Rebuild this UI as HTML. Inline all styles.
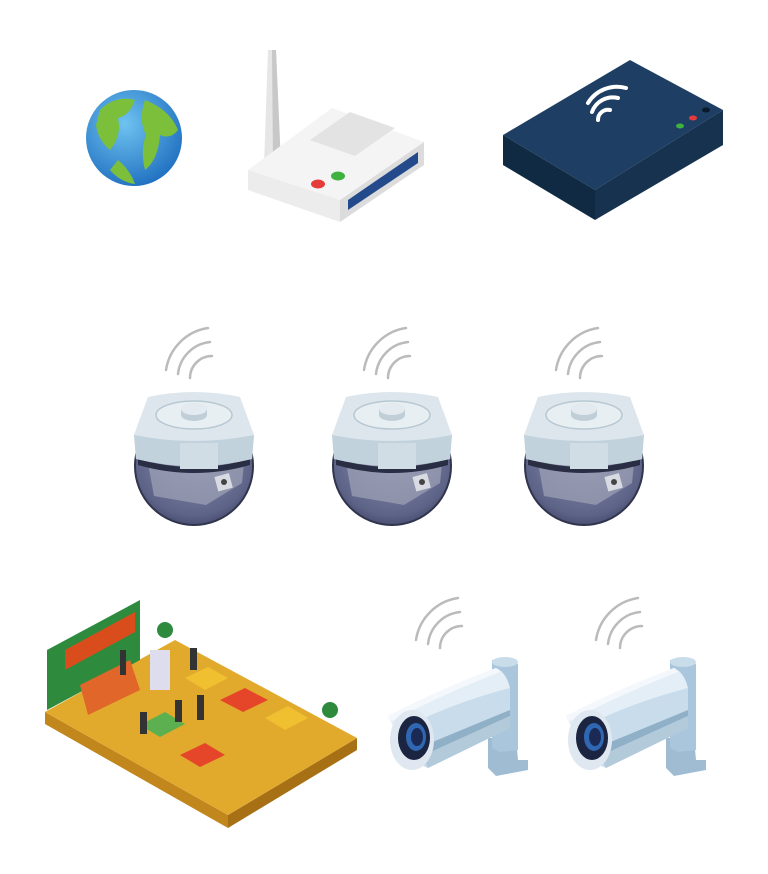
<!DOCTYPE html>
<html><head><meta charset="utf-8"><style>
html,body{margin:0;padding:0;background:#fff;}
svg{display:block}
</style></head><body>
<svg width="768" height="874" viewBox="0 0 768 874" xmlns="http://www.w3.org/2000/svg">
<defs>
<radialGradient id="gl" cx="0.4" cy="0.35" r="0.7"><stop offset="0" stop-color="#6fc3f0"/><stop offset="1" stop-color="#1f6fc0"/></radialGradient>
<radialGradient id="ball" cx="0.5" cy="0.4" r="0.65"><stop offset="0" stop-color="#8d93b0"/><stop offset="0.8" stop-color="#5d6387"/><stop offset="1" stop-color="#3f4466"/></radialGradient>
<g id="wifi" fill="none" stroke="#bbb" stroke-width="2.5" stroke-linecap="round">
<path d="M0 0 A22 22 0 0 1 22 -22"/><path d="M-12 -4 A36 36 0 0 1 20 -36"/><path d="M-24 -8 A50 50 0 0 1 18 -50"/>
</g>
<g id="dome">
<circle cx="0" cy="73" r="59" fill="url(#ball)" stroke="#30344c" stroke-width="2"/>
<path d="M-46 70 L-40 103 L12 112 L48 90 L50 70 Z" fill="#9ba0b4" opacity="0.75"/>
<rect x="22" y="82" width="15" height="15" fill="#d8dbe2" transform="rotate(-15 29 89)"/>
<circle cx="30" cy="89" r="3" fill="#444"/>
<path d="M-56 66 Q0 82 56 66 L56 72 Q0 88 -56 72Z" fill="#2a2e44"/>
<path d="M-46 4 Q0 -6 46 4 L60 42 L58 66 Q0 80 -58 66 L-60 42 Z" fill="#dce6ec"/>
<path d="M-60 42 L-58 66 Q0 80 58 66 L60 42 Q0 54 -60 42Z" fill="#c2d2dc"/>
<path d="M-14 50 L-14 76 L24 76 L24 50Z" fill="#d0dde5"/>
<ellipse cx="0" cy="22" rx="38" ry="14" fill="#e8eff3" stroke="#b8c8d2" stroke-width="1.5"/>
<ellipse cx="0" cy="16" rx="13" ry="6" fill="#d5e0e7"/>
<path d="M-13 16 L-13 22 A13 6 0 0 0 13 22 L13 16Z" fill="#c0ced8"/>
<ellipse cx="0" cy="16" rx="13" ry="6" fill="#e3ebf0"/>
</g>
<g id="bullet">
<!-- bracket -->
<path d="M100 78 L128 78 L130 100 L140 100 L140 110 L108 116 L100 108Z" fill="#9fbcd3"/>
<path d="M104 0 Q118 -4 130 4 L130 90 L112 92 L104 88Z" fill="#a9c6dc"/>
<ellipse cx="117" cy="2" rx="13" ry="5" fill="#c9dcea"/>
<!-- body -->
<path d="M12 50 L108 12 L122 28 L122 68 L40 108 L22 100Z" fill="#c9dceb"/>
<path d="M30 88 L122 50 L122 56 L34 96Z" fill="#8fb0c6"/>
<path d="M34 96 L122 56 L122 68 L40 108Z" fill="#b3cadb"/>
<path d="M0 56 Q50 30 108 8 Q118 12 122 28 Q60 44 8 72Z" fill="#e4eef7"/>
<path d="M0 56 Q50 30 108 8 L112 12 Q55 34 2 62Z" fill="#f4f8fc"/>
<ellipse cx="24" cy="80" rx="22" ry="30" fill="#dfe8f0"/>
<ellipse cx="26" cy="78" rx="16" ry="22" fill="#1b2440"/>
<ellipse cx="28" cy="77" rx="10" ry="14" fill="#2f67b3"/>
<ellipse cx="29" cy="77" rx="6" ry="9" fill="#1a2a55"/>
</g>
</defs>

<!-- globe -->
<circle cx="134" cy="138" r="48" fill="url(#gl)"/>
<path d="M100 110 Q115 95 135 100 Q130 115 118 118 Q122 135 110 150 Q98 140 96 125Z" fill="#7bbf3a"/>
<path d="M145 100 Q170 110 178 130 Q170 140 160 135 Q158 160 145 170 Q140 150 146 135 Q138 120 145 100Z" fill="#7bbf3a"/>
<path d="M118 160 Q130 170 135 184 Q120 182 110 170Z" fill="#7bbf3a"/>

<!-- white router -->
<path d="M268 50 L276 50 L281 165 L264 165Z" fill="#e6e6e6"/>
<path d="M272 50 L276 50 L281 165 L273 165Z" fill="#c8c8c8"/>
<path d="M248 170 L332 108 L424 142 L340 200Z" fill="#f4f4f4"/>
<path d="M310 140 L350 112 L395 128 L355 156Z" fill="#e3e3e3"/>
<path d="M340 200 L424 142 L424 165 L340 222Z" fill="#dcdcdc"/>
<path d="M248 170 L340 200 L340 222 L248 190Z" fill="#ececec"/>
<path d="M348 200 L418 152 L418 163 L348 210Z" fill="#234a8a"/>
<ellipse cx="318" cy="184" rx="7" ry="4.5" fill="#e53b3b"/>
<ellipse cx="338" cy="176" rx="7" ry="4.5" fill="#3db33d"/>

<!-- dark box -->
<path d="M503 135 L630 60 L723 110 L595 190Z" fill="#1e3f63"/>
<path d="M595 190 L723 110 L723 145 L595 220Z" fill="#16324f"/>
<path d="M503 135 L595 190 L595 220 L503 165Z" fill="#0f2a42"/>
<g fill="none" stroke="#fff" stroke-width="4" stroke-linecap="round">
<path d="M598 120 A10 10 0 0 1 610 110"/><path d="M592 112 A22 22 0 0 1 618 98"/><path d="M588 103 A34 34 0 0 1 626 88"/>
</g>
<ellipse cx="680" cy="126" rx="4" ry="2.5" fill="#3db33d"/>
<ellipse cx="693" cy="118" rx="4" ry="2.5" fill="#e53b3b"/>
<ellipse cx="706" cy="110" rx="4" ry="2.5" fill="#0a1a2a"/>

<!-- dome cameras -->
<use href="#wifi" x="190" y="378"/>
<use href="#wifi" x="388" y="378"/>
<use href="#wifi" x="580" y="378"/>
<use href="#dome" x="194" y="393"/>
<use href="#dome" x="392" y="393"/>
<use href="#dome" x="584" y="393"/>

<!-- restaurant -->
<path d="M45 712 L228 815 L228 828 L45 724Z" fill="#c2871c"/>
<path d="M228 815 L357 738 L357 750 L228 828Z" fill="#a87014"/>
<path d="M45 712 L175 640 L357 738 L228 815Z" fill="#e2aa2c"/>
<path d="M47 650 L140 600 L140 660 L47 710Z" fill="#2e8b3e"/>
<path d="M65 650 L135 612 L135 632 L65 670Z" fill="#d94d1c"/>
<path d="M80 685 L130 660 L140 690 L88 715Z" fill="#e0662a"/>
<rect x="150" y="650" width="20" height="40" fill="#dde"/>
<circle cx="165" cy="630" r="8" fill="#2e8b3e"/>
<circle cx="330" cy="710" r="8" fill="#2e8b3e"/>
<path d="M220 700 L245 688 L268 700 L243 712Z" fill="#e5462a"/>
<path d="M265 718 L288 706 L308 718 L285 730Z" fill="#f0c030"/>
<path d="M180 755 L205 743 L225 755 L200 767Z" fill="#e5462a"/>
<path d="M140 725 L165 712 L185 724 L160 737Z" fill="#5cb050"/>
<path d="M185 678 L208 667 L228 678 L205 690Z" fill="#f0c030"/>
<g fill="#333"><rect x="140" y="712" width="7" height="22"/><rect x="175" y="700" width="7" height="22"/><rect x="197" y="695" width="7" height="25"/><rect x="120" y="650" width="6" height="25"/><rect x="190" y="648" width="7" height="22"/></g>

<!-- bullet cameras -->
<use href="#wifi" x="440" y="648"/>
<use href="#wifi" x="620" y="648"/>
<use href="#bullet" x="388" y="660"/>
<use href="#bullet" x="566" y="660"/>
</svg>
</body></html>
